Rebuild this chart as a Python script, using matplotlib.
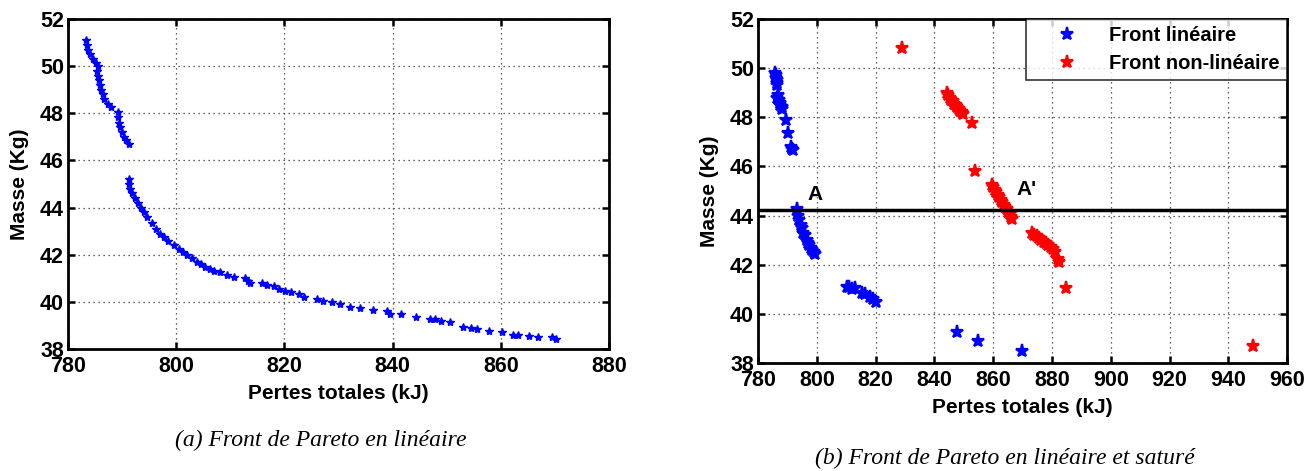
import matplotlib
matplotlib.use("Agg")
import matplotlib.pyplot as plt

plt.rcParams['font.family'] = ['Liberation Sans', 'DejaVu Sans']

# ---- Data (a) ----
x_a = [783.3, 783.5, 783.7, 784.1, 784.6, 785.1, 785.5, 785.4, 785.6, 785.7, 785.9, 786.1, 786.4,
       786.7, 787.3, 788.0, 789.2, 789.3, 789.5, 789.6, 790.0, 790.4, 790.8, 791.3,
       791.2, 791.3, 791.5, 791.9, 792.4, 793.0, 793.5, 794.0, 794.5, 795.5, 796.2, 797.0, 797.7,
       798.5, 799.5, 800.5, 801.2, 802.0, 803.0, 803.8, 804.5, 805.4, 806.2, 807.0, 808.0, 809.3,
       810.6, 812.7, 813.3, 813.7, 815.8, 816.7, 818.0, 818.9, 820.1, 821.3, 822.6, 823.7, 826.0,
       827.2, 828.7, 830.2, 832.1, 834.0, 836.4, 838.9, 839.5, 841.5, 844.3, 846.9, 847.8, 848.9,
       850.6, 853.0, 854.4, 855.5, 857.8, 860.2, 862.2, 863.2, 865.2, 866.9, 869.4, 870.2]
y_a = [51.1, 50.9, 50.7, 50.5, 50.3, 50.15, 50.0, 49.8, 49.6, 49.4, 49.2, 49.0, 48.8,
       48.6, 48.4, 48.25, 48.05, 47.85, 47.6, 47.4, 47.2, 47.0, 46.85, 46.7,
       45.2, 45.0, 44.8, 44.6, 44.4, 44.2, 44.0, 43.8, 43.6, 43.35, 43.1, 42.9, 42.75,
       42.6, 42.4, 42.25, 42.1, 42.0, 41.85, 41.7, 41.6, 41.5, 41.4, 41.3, 41.25, 41.15,
       41.05, 41.0, 40.9, 40.8, 40.8, 40.7, 40.68, 40.55, 40.47, 40.4, 40.35, 40.22, 40.12,
       40.05, 40.0, 39.93, 39.8, 39.73, 39.64, 39.62, 39.5, 39.47, 39.34, 39.26, 39.26, 39.2,
       39.13, 38.95, 38.9, 38.83, 38.78, 38.72, 38.59, 38.59, 38.55, 38.49, 38.49, 38.42]

# ---- Data (b) ----
x_lin = [785.8, 786.2, 786.0, 786.4, 786.6, 786.3, 786.8, 786.5, 787.0, 787.3, 787.6, 788.0, 788.2,
         789.6, 790.2, 791.3, 791.7, 792.0, 793.3, 793.7, 794.1, 794.6, 795.0, 795.4, 796.0, 796.5,
         797.0, 797.5, 798.0, 798.5, 799.0, 799.4, 810.3, 811.0, 812.0, 813.0, 815.5, 816.5, 818.0,
         819.0, 820.2, 847.6, 855.0, 869.7]
y_lin = [49.8, 49.7, 49.6, 49.5, 49.4, 49.3, 48.9, 48.8, 48.7, 48.6, 48.5, 48.4, 48.35,
         47.9, 47.35, 46.8, 46.7, 46.65, 44.25, 44.0, 43.8, 43.6, 43.5, 43.3, 43.2, 43.0,
         42.9, 42.8, 42.7, 42.6, 42.5, 42.45, 41.1, 41.1, 41.0, 41.05, 40.85, 40.8, 40.7,
         40.6, 40.5, 39.27, 38.9, 38.5]
x_nl = [828.9, 844.3, 844.8, 845.3, 845.8, 846.3, 846.8, 847.3, 847.8, 848.3, 848.8, 849.3, 849.8,
        852.7, 853.8, 859.6, 860.1, 860.6, 861.1, 861.6, 862.1, 862.6, 863.1, 863.6, 864.1, 864.6,
        865.1, 865.6, 866.1, 866.5, 873.2, 874.0, 874.8, 875.6, 876.4, 877.2, 878.0, 878.8, 879.6,
        880.3, 881.2, 881.9, 882.5, 884.8, 948.5]
y_nl = [50.81, 48.98, 48.9, 48.8, 48.72, 48.65, 48.55, 48.48, 48.4, 48.33, 48.25, 48.2, 48.15,
        47.78, 45.83, 45.25, 45.15, 45.05, 44.95, 44.85, 44.75, 44.65, 44.55, 44.45, 44.35, 44.25,
        44.15, 44.05, 43.95, 43.88, 43.28, 43.22, 43.15, 43.08, 43.0, 42.92, 42.87, 42.8, 42.72,
        42.65, 42.5, 42.25, 42.1, 41.04, 38.69]
h_line = 44.23

xticks_a = [780, 800, 820, 840, 860, 880]
xticks_b = [780, 800, 820, 840, 860, 880, 900, 920, 940, 960]
yticks = [38, 40, 42, 44, 46, 48, 50, 52]

fig = plt.figure(figsize=(13.14, 4.71), dpi=100)
ax1 = fig.add_axes([0.0518, 0.259, 0.4117, 0.7006])
ax2 = fig.add_axes([0.5769, 0.2293, 0.4026, 0.7304])

tick_fs = 15.5
lab_fs = 15

def style(ax, xt):
    ax.set_yticks(yticks)
    ax.set_xticks(xt)
    ax.set_xlim(xt[0], xt[-1])
    ax.set_ylim(38, 52)
    ax.grid(True, linestyle=(0, (1, 3)), color='#333333', linewidth=0.9)
    ax.tick_params(direction='in', top=True, right=True, length=5, width=1.8,
                   labelsize=tick_fs)
    ax.tick_params(axis='x', pad=5)
    ax.tick_params(axis='y', pad=3)
    for lab in ax.get_xticklabels() + ax.get_yticklabels():
        lab.set_fontweight('bold')
    for s in ax.spines.values():
        s.set_linewidth(2)
    ax.set_axisbelow(True)

ax1.plot(x_a, y_a, linestyle='none', marker='*', markersize=6, color='#0000ff',
         markeredgewidth=1.0)
style(ax1, xticks_a)
ax1.set_xlabel('Pertes totales (kJ)', fontsize=lab_fs, fontweight='bold', labelpad=5)
ax1.set_ylabel('Masse (Kg)', fontsize=lab_fs, fontweight='bold', labelpad=8)

ax2.plot(x_lin, y_lin, linestyle='none', marker='*', markersize=9.5, color='#0000ff',
         markeredgewidth=1.6, label='Front linéaire')
ax2.plot(x_nl, y_nl, linestyle='none', marker='*', markersize=9.5, color='#ff0000',
         markeredgewidth=1.6, label='Front non-linéaire')
ax2.axhline(h_line, color='black', linewidth=2.5)
style(ax2, xticks_b)
ax2.set_xlabel('Pertes totales (kJ)', fontsize=lab_fs, fontweight='bold', labelpad=5)
ax2.set_ylabel('Masse (Kg)', fontsize=lab_fs, fontweight='bold', labelpad=8)
ax2.text(799.4, 44.85, 'A', fontsize=15, fontweight='bold', ha='center', va='center')
ax2.text(871.4, 45.05, "A'", fontsize=15, fontweight='bold', ha='center', va='center')
leg = ax2.legend(loc='upper right', borderaxespad=0, frameon=True,
                 fancybox=False, edgecolor='black', handletextpad=0.4, handlelength=3.4,
                 prop={'weight': 'bold', 'size': 14.5}, borderpad=0.35, labelspacing=0.45,
                 markerscale=1.0)
leg.get_frame().set_linewidth(1.2)

fig.text(321 / 1314, 1 - 440 / 471, '(a) Front de Pareto en linéaire', ha='center', va='center',
         fontsize=17, style='italic', family='Liberation Serif')
fig.text(1005 / 1314, 1 - 458 / 471, '(b) Front de Pareto en linéaire et saturé', ha='center',
         va='center', fontsize=17, style='italic', family='Liberation Serif')

fig.savefig('out.png', dpi=100)
